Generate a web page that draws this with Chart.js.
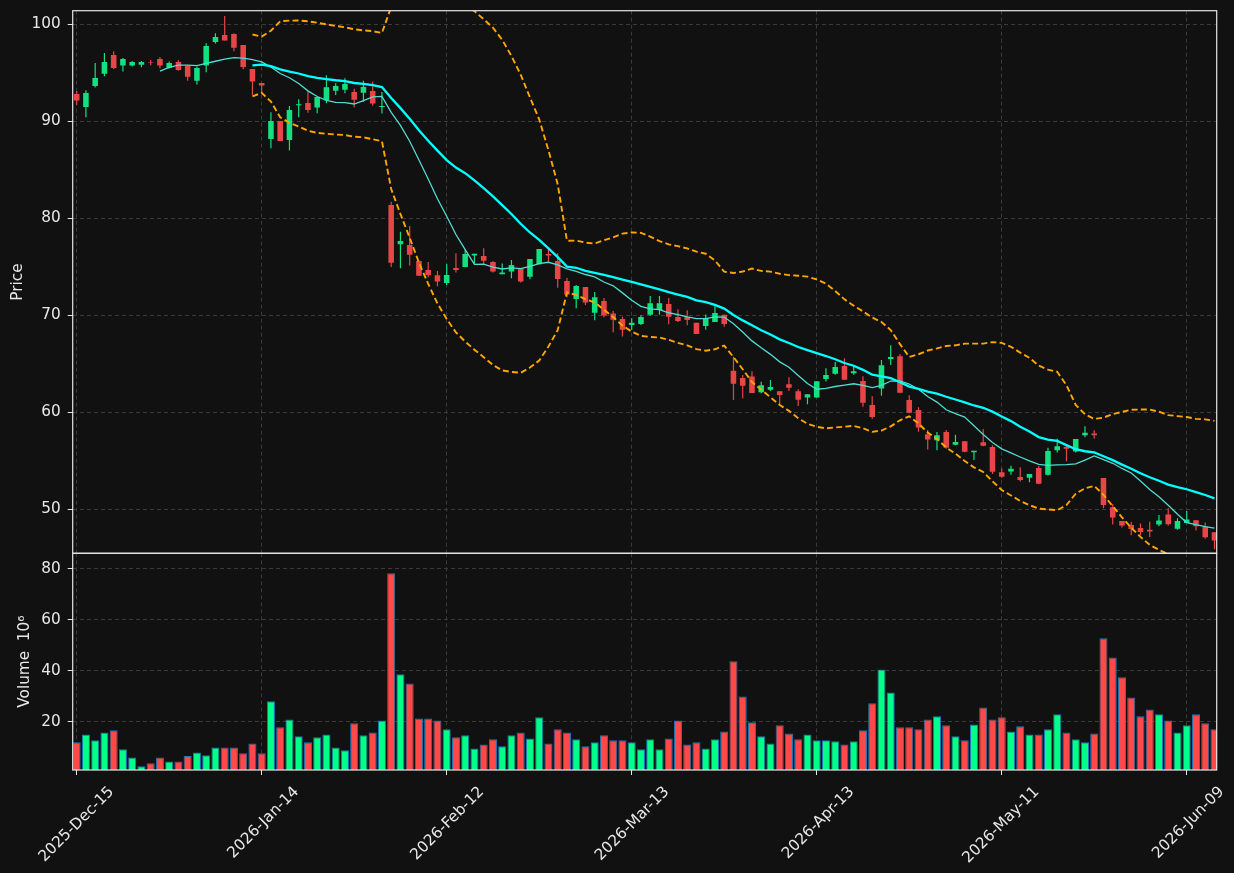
<!DOCTYPE html>
<html>
<head>
<meta charset="utf-8">
<script src="https://cdn.jsdelivr.net/npm/chart.js@4"></script>
<style>
html,body{margin:0;padding:0;background:#111111;width:1234px;height:873px;overflow:hidden;}
#wrap{position:relative;width:1234px;height:873px;background:#111111;}
#pc{position:absolute;left:0;top:0;width:1234px;height:554px;}
#vc{position:absolute;left:0;top:540px;width:1234px;height:333px;}
</style>
</head>
<body>
<div id="wrap">
<canvas id="pc" width="1234" height="554"></canvas>
<canvas id="vc" width="1234" height="333"></canvas>
</div>
<script>
// ---- tick labels (x positions are trading-day indices) ----
const tickPositions = [0, 20, 40, 60, 80, 100, 120];
const tickLabels = ['2025-Dec-15', '2026-Jan-14', '2026-Feb-12', '2026-Mar-13', '2026-Apr-13', '2026-May-11', '2026-Jun-09'];
const priceTicks = [50, 60, 70, 80, 90, 100];
const volumeTicks = [20, 40, 60, 80];

// ---- OHLC series ----
const openP = [92.82,91.48,93.64,94.91,96.84,95.74,95.74,95.84,96.12,96.43,
95.53,96.12,95.70,94.19,95.74,98.18,98.90,99.00,97.87,95.40,
93.95,88.17,90.03,88.07,91.65,91.89,91.41,92.16,93.16,93.26,
93.02,92.95,93.12,91.47,81.37,77.32,77.25,75.59,74.66,74.12,
73.33,74.88,74.98,76.15,76.11,75.49,74.23,74.50,74.85,73.98,
75.25,76.32,75.60,73.54,71.68,72.92,70.27,71.48,70.17,69.62,
69.00,69.10,70.06,70.54,71.16,69.82,69.82,69.24,68.89,69.31,
70.06,64.29,63.53,63.70,62.06,62.33,62.16,62.88,62.16,61.51,
61.51,63.43,63.98,64.77,64.02,63.23,60.75,62.44,65.49,65.77,
61.27,60.24,57.73,57.11,57.97,56.66,57.01,55.87,56.90,56.42,
53.81,53.90,53.33,53.26,54.25,53.57,56.08,56.42,55.95,57.63,
57.80,53.23,50.20,48.80,48.39,48.08,47.90,48.42,49.45,48.00,
48.59,48.87,48.21,47.63];
const highP = [93.13,93.20,96.01,97.04,97.22,96.53,96.22,96.22,96.32,96.63,
96.15,96.29,95.81,95.64,98.04,99.07,100.86,99.07,97.87,95.40,
93.95,90.92,90.03,91.57,92.26,93.06,92.51,94.74,93.91,94.43,
93.36,94.19,94.09,93.02,81.71,78.62,79.20,75.59,75.49,74.56,
75.28,76.39,76.80,76.35,76.90,75.56,75.35,75.70,74.85,75.80,
76.83,76.90,76.39,73.84,73.12,72.92,72.40,71.79,70.45,69.86,
69.69,69.99,71.99,71.99,71.78,70.61,70.51,69.24,70.09,71.06,
70.06,65.73,63.84,64.22,63.15,63.33,62.16,63.60,62.37,61.86,
63.19,64.53,65.19,65.56,64.77,63.71,61.65,65.39,66.90,66.01,
61.75,60.51,58.17,57.97,58.17,57.69,57.01,56.04,58.28,56.59,
54.19,54.48,54.32,53.64,54.46,56.35,57.28,56.70,57.25,58.56,
58.14,53.23,50.55,48.80,48.70,48.52,48.70,49.41,50.10,49.07,
49.83,48.87,48.63,47.63];
const lowP = [91.68,90.41,93.47,94.64,95.40,95.12,95.64,95.57,95.77,95.46,
95.43,95.22,94.19,93.78,95.05,98.01,98.32,97.22,95.36,92.71,
92.88,87.21,87.97,87.00,90.41,90.89,90.82,91.85,92.71,92.88,
91.44,91.99,91.61,90.79,74.98,74.84,75.12,74.08,73.91,73.00,
73.12,74.40,74.95,75.32,75.32,74.40,74.23,73.81,73.37,73.71,
75.25,75.46,72.85,71.86,70.72,71.07,69.48,69.79,68.25,67.80,
68.48,68.99,69.96,70.06,69.07,69.31,68.96,68.08,68.51,69.31,
68.82,61.27,61.44,61.99,61.95,62.19,60.86,62.19,60.65,60.83,
61.51,63.16,63.88,63.36,63.88,60.58,59.34,61.71,64.88,61.95,
59.89,58.00,56.15,56.08,56.25,56.59,55.87,55.08,56.49,53.64,
53.26,53.55,52.85,52.78,52.58,53.47,55.84,54.95,55.84,57.42,
57.28,50.10,48.42,48.11,47.32,47.32,47.14,48.25,48.32,47.90,
48.59,47.80,46.97,45.88];
const closeP = [92.13,92.92,94.47,96.12,95.50,96.43,96.12,96.12,96.05,95.74,
96.01,95.29,94.60,95.50,97.77,98.69,98.32,97.59,95.60,94.09,
93.68,90.03,87.97,91.17,91.75,91.17,92.51,93.50,93.64,93.84,
92.23,93.53,91.82,91.58,75.42,77.66,76.25,74.08,74.15,73.47,
74.15,74.67,76.32,76.35,75.63,74.50,74.40,75.18,73.47,75.80,
76.83,76.15,73.74,72.13,73.02,71.31,71.86,69.97,69.55,68.52,
69.24,69.82,71.23,71.23,69.86,69.41,69.51,68.08,69.72,70.23,
69.10,62.95,62.74,61.99,62.78,62.60,61.79,62.54,61.30,61.86,
63.19,63.85,64.67,63.36,64.22,60.99,59.52,64.84,65.70,62.02,
59.96,58.42,57.18,57.63,56.35,56.94,55.94,56.04,56.56,53.88,
53.36,54.17,53.02,53.64,52.64,56.01,56.49,56.25,57.25,57.90,
57.63,50.45,49.14,48.32,47.97,47.66,47.70,48.83,48.45,48.80,
48.94,48.25,47.11,46.77];
// ---- volume (millions) ----
const volume = [11.9,15.0,12.7,15.8,16.6,9.15,6.0,2.5,3.66,6.0,
4.44,4.44,6.54,7.97,6.8,9.93,9.93,9.93,7.58,11.5,
7.58,28.0,17.8,20.9,14.25,11.9,13.86,15.0,9.93,8.76,
19.35,14.64,15.8,20.5,78.2,38.6,35.0,21.3,21.3,20.5,
17.0,13.86,14.64,9.54,11.1,13.07,10.33,14.64,15.8,13.46,
21.7,11.5,17.0,15.8,13.07,10.33,11.9,14.64,12.7,12.7,
11.9,9.15,13.07,9.15,13.46,20.5,11.1,11.9,9.54,13.07,
16.2,43.66,29.9,19.74,14.25,11.5,18.56,15.4,13.07,15.0,
12.7,12.7,12.3,11.1,12.3,16.6,27.2,40.5,31.5,17.8,
17.8,17.0,20.9,22.1,18.56,14.25,12.7,18.95,25.6,20.9,
21.7,16.2,18.2,15.0,15.0,17.0,22.9,15.8,13.07,11.9,
15.4,52.7,45.2,37.4,29.5,22.1,24.8,22.9,20.5,15.8,
18.56,22.9,19.35,17.0];

// ---- indicators derived from the closes (as in the original chart: MA10, MA20, Bollinger 20/2) ----
function rollingMean(arr, n) {
  return arr.map((_, i) => {
    if (i < n - 1) return null;
    let s = 0; for (let k = i - n + 1; k <= i; k++) s += arr[k];
    return s / n;
  });
}
function rollingStd(arr, n) {
  const m = rollingMean(arr, n);
  return arr.map((_, i) => {
    if (i < n - 1) return null;
    let s = 0; for (let k = i - n + 1; k <= i; k++) s += (arr[k] - m[i]) ** 2;
    return Math.sqrt(s / n);
  });
}
const ma10 = rollingMean(closeP, 10);
const ma20 = rollingMean(closeP, 20);
const sd20 = rollingStd(closeP, 20);
const bbUpper = ma20.map((m, i) => m === null ? null : m + 2 * sd20[i]);
const bbLower = ma20.map((m, i) => m === null ? null : m - 2 * sd20[i]);

// ---- styles ----
const TEXT = '#e8e8e8';
const GRID = '#3a3a3a';
const SPINE = '#e6e6e6';
const UP_C = '#14e07f', DN_C = '#e84646';
const UP_V = '#00ff88', DN_V = '#ff4848';
const FS = 15.3;
Chart.defaults.font.family = "'DejaVu Sans', sans-serif";
Chart.defaults.font.size = FS;

const isUp = i => closeP[i] >= openP[i];
const idx = closeP.map((_, i) => i);
const pts = arr => idx.map(i => ({ x: i, y: arr[i] }));

const frame = {
  id: 'frame',
  afterDraw(chart) {
    const { ctx, chartArea: a } = chart;
    ctx.save();
    ctx.strokeStyle = SPINE;
    ctx.lineWidth = 1.2;
    ctx.strokeRect(a.left, a.top, a.right - a.left, a.bottom - a.top);
    ctx.restore();
  }
};

function xScale(showLabels) {
  return {
    type: 'linear', min: -0.43, max: 123.24, offset: false, bounds: 'data',
    afterBuildTicks: s => { s.ticks = tickPositions.map(v => ({ value: v })); },
    ticks: {
      display: showLabels, autoSkip: false, maxRotation: 45, minRotation: 45,
      labelOffset: 35, padding: 8, color: TEXT, font: { size: FS },
      callback: v => tickLabels[tickPositions.indexOf(v)]
    },
    grid: { color: GRID, offset: false, drawTicks: showLabels, tickLength: 5, tickColor: SPINE, tickWidth: 1 },
    border: { display: false, dash: [4, 3] },
    afterFit: s => { s.paddingLeft = 0; s.paddingRight = 0; s.height = showLabels ? 103 : 0; }
  };
}
function yScale(min, max, ticksArr, title, titlePad) {
  return {
    type: 'linear', position: 'left', min, max, bounds: 'data',
    afterBuildTicks: s => { s.ticks = ticksArr.map(v => ({ value: v })); },
    ticks: { color: TEXT, font: { size: FS }, padding: 7 },
    grid: { color: GRID, tickLength: 5, tickColor: SPINE, tickWidth: 1 },
    border: { display: false, dash: [4, 3] },
    title: { display: true, text: title, color: TEXT, font: { size: FS }, padding: { top: titlePad, bottom: 0 } },
    afterFit: s => { s.width = 72.7; s.paddingTop = 0; s.paddingBottom = 0; }
  };
}

new Chart(document.getElementById('pc'), {
  type: 'bar',
  data: {
    datasets: [
      { type: 'line', label: 'MA20', data: pts(ma20), borderColor: '#00ffff', borderWidth: 2.3, pointRadius: 0, tension: 0, order: 0 },
      { type: 'line', label: 'MA10', data: pts(ma10), borderColor: '#4fdcd2', borderWidth: 1.3, pointRadius: 0, tension: 0, order: 0 },
      { type: 'line', label: 'BB upper', data: pts(bbUpper), borderColor: '#ffa500', borderWidth: 1.9, borderDash: [6, 3.2], pointRadius: 0, tension: 0, order: 0 },
      { type: 'line', label: 'BB lower', data: pts(bbLower), borderColor: '#ffa500', borderWidth: 1.9, borderDash: [6, 3.2], pointRadius: 0, tension: 0, order: 0 },
      { label: 'body', data: idx.map(i => ({ x: i, y: [openP[i], closeP[i]] })), grouped: false,
        backgroundColor: c => isUp(c.dataIndex) ? UP_C : DN_C, borderWidth: 0,
        categoryPercentage: 1, barPercentage: 0.6, order: 1 },
      { label: 'wick', data: idx.map(i => ({ x: i, y: [lowP[i], highP[i]] })), grouped: false,
        backgroundColor: c => isUp(c.dataIndex) ? UP_C : DN_C, borderWidth: 0,
        categoryPercentage: 1, barPercentage: 0.13, order: 2 }
    ]
  },
  options: {
    responsive: false, animation: false,
    layout: { padding: { top: 10.7, right: 17.3, bottom: 0.7, left: 0 } },
    plugins: { legend: { display: false }, tooltip: { enabled: false } },
    scales: { x: xScale(false), y: yScale(45.46, 101.4, priceTicks, 'Price', 9.1) }
  },
  plugins: [frame]
});

new Chart(document.getElementById('vc'), {
  type: 'bar',
  data: {
    datasets: [
      { label: 'Volume', data: idx.map(i => ({ x: i, y: volume[i] })),
        backgroundColor: c => isUp(c.dataIndex) ? UP_V : DN_V,
        borderColor: '#1f77b4', borderWidth: 1, borderSkipped: false,
        categoryPercentage: 1, barPercentage: 0.87 }
    ]
  },
  options: {
    responsive: false, animation: false,
    layout: { padding: { top: 13.3, right: 17.3, bottom: 0, left: 0 } },
    plugins: { legend: { display: false }, tooltip: { enabled: false } },
    scales: { x: xScale(true), y: yScale(1.06, 86.04, volumeTicks, 'Volume  10\u2076', 15.5) }
  },
  plugins: [frame]
});
</script>
</body>
</html>
